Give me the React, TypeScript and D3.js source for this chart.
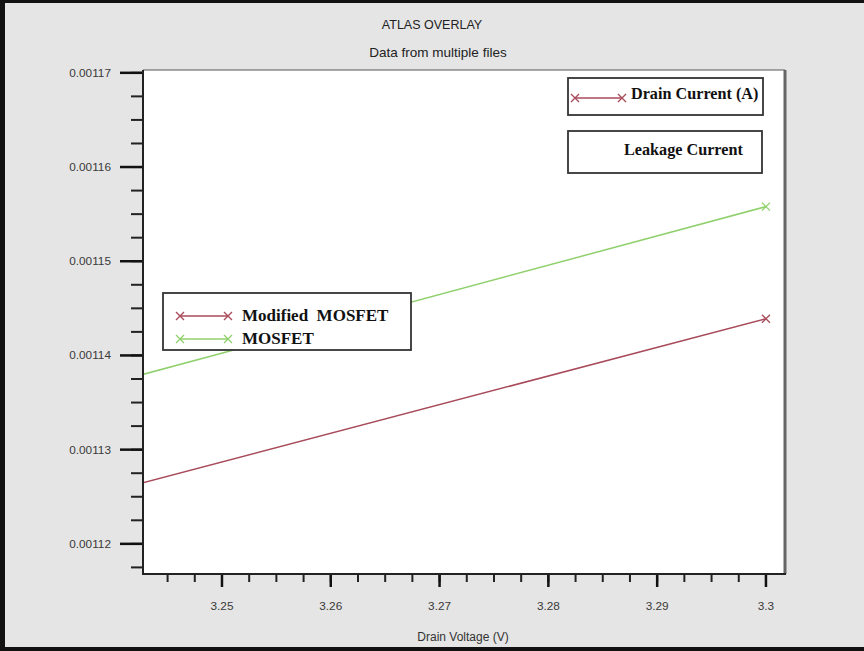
import React from 'react';
import * as d3 from 'd3';

// values
const drainVoltage = [3.2, 3.3];
const modifiedMosfet = [0.0011135, 0.0011439];
const mosfet = [0.0011247, 0.0011558];
const xDomain = [3.24274, 3.30175];
const yDomain = [0.0011168, 0.0011703];
const seriesNames = ['Modified  MOSFET', 'MOSFET'];
const legendTop = ['Drain Current (A)', 'Leakage Current'];

const W = 864;
const H = 651;
const plot = { left: 143, top: 70, right: 785, bottom: 574 };
const RED = '#a84a5a';
const GREEN = '#8fd06c';
const SANS = 'Liberation Sans, Arial, sans-serif';
const SERIF = 'Liberation Serif, Times New Roman, serif';

const stepTicks = (d: number[], step: number) =>
  d3.range(Math.ceil(d[0] / step - 1e-9), Math.floor(d[1] / step + 1e-9) + 1).map(i => i * step);

const Cross = ({ x, y, color }: { x: number; y: number; color: string }) => (
  <path d={`M${x - 4},${y - 4}L${x + 4},${y + 4}M${x - 4},${y + 4}L${x + 4},${y - 4}`} stroke={color} strokeWidth={1.3} />
);

const App = () => {
  const x = d3.scaleLinear().domain(xDomain).range([plot.left, plot.right]);
  const y = d3.scaleLinear().domain(yDomain).range([plot.bottom, plot.top]);

  const xMajor = x.ticks(6);
  const xMinor = stepTicks(xDomain, 0.0025);
  const yMajor = stepTicks(yDomain, 0.00001);
  const yMinor = stepTicks(yDomain, 0.0000025);

  const line = d3.line<number>().x((_, i) => x(drainVoltage[i])).y(d => y(d));
  const series = [
    { name: seriesNames[0], values: modifiedMosfet, color: RED },
    { name: seriesNames[1], values: mosfet, color: GREEN },
  ];
  const inside = (v: number) => v >= xDomain[0] && v <= xDomain[1];

  return (
    <svg width={W} height={H} style={{ position: 'absolute', left: 0, top: 0 }}>
      <defs>
        <clipPath id="plotClip">
          <rect x={plot.left} y={plot.top} width={plot.right - plot.left} height={plot.bottom - plot.top} />
        </clipPath>
      </defs>
      <rect width={W} height={H} fill="#e5e5e5" />
      {/* outer frame */}
      <rect x={0} y={0} width={W} height={3} fill="#111" />
      <rect x={0} y={0} width={5} height={H} fill="#111" />
      <rect x={0} y={647} width={W} height={4} fill="#111" />

      <text x={432} y={29} textAnchor="middle" fontFamily={SANS} fontSize={12.5} fill="#222">ATLAS OVERLAY</text>
      <text x={438} y={57} textAnchor="middle" fontFamily={SANS} fontSize={13.5} fill="#222">Data from multiple files</text>

      <rect x={plot.left} y={plot.top} width={plot.right - plot.left} height={plot.bottom - plot.top} fill="#fff" />

      {/* y ticks */}
      {yMinor.map(t => (
        <line key={'ym' + t} x1={plot.left - 12} x2={plot.left} y1={y(t)} y2={y(t)} stroke="#222" strokeWidth={2} />
      ))}
      {yMajor.map(t => (
        <g key={'yM' + t}>
          <line x1={plot.left - 23} x2={plot.left} y1={y(t)} y2={y(t)} stroke="#111" strokeWidth={2.5} />
          <text x={111} y={y(t) + 4} textAnchor="end" fontFamily={SANS} fontSize={11.8} fill="#3a3a3a">{d3.format('.5f')(t)}</text>
        </g>
      ))}
      {/* x ticks */}
      {xMinor.map(t => (
        <line key={'xm' + t} x1={x(t)} x2={x(t)} y1={plot.bottom} y2={plot.bottom + 8} stroke="#222" strokeWidth={2} />
      ))}
      {xMajor.map(t => (
        <g key={'xM' + t}>
          <line x1={x(t)} x2={x(t)} y1={plot.bottom} y2={plot.bottom + 13} stroke="#111" strokeWidth={2.5} />
          <text x={x(t)} y={610} textAnchor="middle" fontFamily={SANS} fontSize={11.8} fill="#3a3a3a">{String(+t.toFixed(4))}</text>
        </g>
      ))}
      <text x={463} y={641} textAnchor="middle" fontFamily={SANS} fontSize={12} fill="#333">Drain Voltage (V)</text>

      {/* series */}
      <g clipPath="url(#plotClip)">
        {series.map(s => (
          <g key={s.name}>
            <path d={line(s.values) || ''} fill="none" stroke={s.color} strokeWidth={1.5} />
            {s.values.map((v, i) =>
              inside(drainVoltage[i]) ? <Cross key={i} x={x(drainVoltage[i])} y={y(v)} color={s.color} /> : null
            )}
          </g>
        ))}
      </g>

      {/* plot frame */}
      <line x1={plot.left} x2={plot.right} y1={plot.top} y2={plot.top} stroke="#555" strokeWidth={1} />
      <line x1={plot.right} x2={plot.right} y1={plot.top} y2={plot.bottom} stroke="#666" strokeWidth={3} />
      <line x1={plot.left} x2={plot.right + 1} y1={plot.bottom} y2={plot.bottom} stroke="#222" strokeWidth={2} />
      <line x1={plot.left} x2={plot.left} y1={plot.top} y2={plot.bottom + 1} stroke="#222" strokeWidth={2} />

      {/* series legend */}
      <rect x={163} y={293} width={248} height={57} fill="#fff" stroke="#333" strokeWidth={1.8} />
      {series.map((s, i) => (
        <g key={'lg' + s.name}>
          <line x1={180} x2={228} y1={316 + i * 23} y2={316 + i * 23} stroke={s.color} strokeWidth={1.5} />
          <Cross x={180} y={316 + i * 23} color={s.color} />
          <Cross x={228} y={316 + i * 23} color={s.color} />
          <text x={242} y={321 + i * 23} fontFamily={SERIF} fontWeight="bold" fontSize={17} fill="#111" style={{ whiteSpace: 'pre' }}>{s.name}</text>
        </g>
      ))}

      {/* top-right legends */}
      <rect x={568} y={78} width={195} height={37} fill="#fff" stroke="#333" strokeWidth={1.8} />
      <line x1={575} x2={622} y1={98} y2={98} stroke={RED} strokeWidth={1.5} />
      <Cross x={575} y={98} color={RED} />
      <Cross x={622} y={98} color={RED} />
      <text x={631} y={99} fontFamily={SERIF} fontWeight="bold" fontSize={16.2} fill="#111">{legendTop[0]}</text>
      <rect x={568} y={131} width={194} height={42} fill="#fff" stroke="#333" strokeWidth={1.8} />
      <text x={624} y={155} fontFamily={SERIF} fontWeight="bold" fontSize={16.2} fill="#111">{legendTop[1]}</text>
    </svg>
  );
};

export default App;
